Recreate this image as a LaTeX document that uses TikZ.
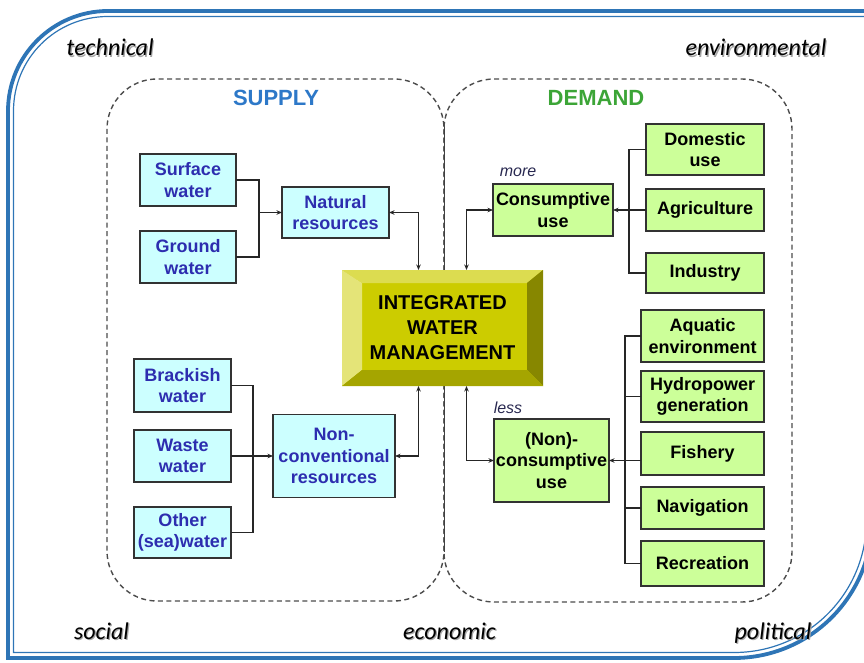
\documentclass[tikz,border=0pt]{standalone}
\usepackage{fontspec}
\setmainfont{Liberation Sans}
\newfontfamily\calfont{Carlito}
\usetikzlibrary{arrows.meta}
\definecolor{framecol}{RGB}{46,117,182}
\definecolor{supcol}{RGB}{45,120,200}
\definecolor{demcol}{RGB}{60,165,55}
\definecolor{cyanfill}{RGB}{204,255,255}
\definecolor{greenfill}{RGB}{204,255,153}
\definecolor{cyantext}{RGB}{45,45,175}
\definecolor{boxline}{RGB}{50,50,50}
\definecolor{iwmface}{RGB}{204,204,0}
\definecolor{iwmtop}{RGB}{220,220,80}
\definecolor{iwmleft}{RGB}{228,228,120}
\definecolor{iwmright}{RGB}{135,135,0}
\definecolor{iwmbottom}{RGB}{165,165,0}
\definecolor{moretext}{RGB}{40,40,80}
\begin{document}
\begin{tikzpicture}[x=1pt,y=-1pt,
  every node/.style={inner sep=0pt, outer sep=0pt},
  boxtext/.style={font=\bfseries\fontsize{18}{21.5}\selectfont, align=center},
  srcbox/.style={boxtext, draw=boxline, line width=1.3pt, fill=cyanfill, text=cyantext},
  usebox/.style={boxtext, draw=boxline, line width=1.3pt, fill=greenfill, text=black},
  conn/.style={draw=black!85, line width=1.3pt},
  tip/.style={-{Stealth[length=5.5pt,width=4.5pt]}},
  bothtip/.style={{Stealth[length=5.5pt,width=4.5pt]}-{Stealth[length=5.5pt,width=4.5pt]}},
  cornerlbl/.style={font=\calfont\itshape\fontsize{24}{28}\selectfont, anchor=base, text=black},
  cornershadow/.style={font=\calfont\itshape\fontsize{24}{28}\selectfont, anchor=base, text=black!35},
  dashframe/.style={draw=black!70, line width=1.4pt, dash pattern=on 5pt off 3.5pt, rounded corners=50pt},
  headlbl/.style={font=\bfseries\fontsize{22}{26}\selectfont},
  qual/.style={font=\itshape\fontsize{16}{18}\selectfont, text=moretext}
]
\useasboundingbox (0,0) rectangle (864,663);

% outer double frame
\draw[framecol, line width=3.8pt] (880,11) -- (108,11) .. controls (52.8,11) and (8,55.8) .. (8,111)
  -- (8,658) -- (734,658) .. controls (810.2,658) and (872,596.2) .. (872,520) -- (872,0);
\draw[framecol, line width=1.2pt] (880,16.5) -- (108,16.5) .. controls (55.5,16.5) and (13.5,58.5) .. (13.5,111)
  -- (13.5,652.5) -- (734,652.5) .. controls (807.5,652.5) and (866.5,593.5) .. (866.5,520) -- (866.5,0);

% corner labels
\node[cornershadow] (tecS) at (111.2,57.2) {technical};
\node[cornerlbl] (tec) at (110,56) {technical};
\node[cornershadow] (envS) at (757.2,57.2) {environmental};
\node[cornerlbl] (env) at (756,56) {environmental};
\node[cornershadow] (socS) at (102.7,640.2) {social};
\node[cornerlbl] (soc) at (101.5,639) {social};
\node[cornershadow] (ecoS) at (450.7,640.2) {economic};
\node[cornerlbl] (eco) at (449.5,639) {economic};
\node[cornershadow] (polS) at (774.2,640.2) {political};
\node[cornerlbl] (pol) at (773,639) {political};

% dashed regions
\draw[dashframe] (107,79) rectangle (444,601);
\draw[dashframe] (444,79) rectangle (792,602);
\draw[black!75, line width=1pt] (444,127) -- (444,552);

\node[headlbl, text=supcol] (sup) at (276,98) {SUPPLY};
\node[headlbl, text=demcol] (dem) at (596,98) {DEMAND};

% central bevelled box
\fill[iwmface] (342,270) rectangle (543,386);
\fill[iwmtop] (342,270) -- (543,270) -- (527,283) -- (362,283) -- cycle;
\fill[iwmleft] (342,270) -- (362,283) -- (362,370) -- (342,386) -- cycle;
\fill[iwmright] (543,270) -- (543,386) -- (527,370) -- (527,283) -- cycle;
\fill[iwmbottom] (342,386) -- (543,386) -- (527,370) -- (362,370) -- cycle;
\node[font=\bfseries\fontsize{20}{25}\selectfont, align=center, minimum width=201pt, minimum height=116pt] (iwm) at (442.5,328) {INTEGRATED\\WATER\\MANAGEMENT};

% supply boxes
\node[srcbox, minimum width=96pt, minimum height=52pt] (surf) at (188,180) {Surface\\water};
\node[srcbox, minimum width=96pt, minimum height=52pt] (ground) at (188,257) {Ground\\water};
\node[srcbox, minimum width=107pt, minimum height=51pt] (nat) at (335.5,212.5) {Natural\\resources};
\node[srcbox, minimum width=97pt, minimum height=53pt] (brack) at (182.5,385.5) {Brackish\\water};
\node[srcbox, minimum width=97pt, minimum height=52pt] (waste) at (182.5,456) {Waste\\water};
\node[srcbox, minimum width=97pt, minimum height=51pt] (other) at (182.5,532.5) {Other\\(sea)water};
\node[srcbox, minimum width=122pt, minimum height=83pt] (ncr) at (334,456) {Non-\\conventional\\resources};

% demand boxes
\node[usebox, minimum width=120pt, minimum height=52pt] (cons) at (553,210) {Consumptive\\use};
\node[usebox, minimum width=118pt, minimum height=51pt] (dom) at (705,149.5) {Domestic\\use};
\node[usebox, minimum width=118pt, minimum height=42pt] (agr) at (705,210) {Agriculture};
\node[usebox, minimum width=118pt, minimum height=40pt] (ind) at (705,273) {Industry};
\node[usebox, minimum width=115pt, minimum height=83pt] (ncu) at (551.5,460.5) {(Non)-\\consumptive\\use};
\node[usebox, minimum width=123pt, minimum height=52pt] (aqu) at (702.5,336) {Aquatic\\environment};
\node[usebox, minimum width=123pt, minimum height=51pt] (hyd) at (702.5,396.5) {Hydropower\\generation};
\node[usebox, minimum width=123pt, minimum height=43pt] (fish) at (702.5,453.5) {Fishery};
\node[usebox, minimum width=123pt, minimum height=42pt] (nav) at (702.5,508) {Navigation};
\node[usebox, minimum width=123pt, minimum height=45pt] (rec) at (702.5,563.5) {Recreation};

\node[qual] (more) at (518,172) {more};
\node[qual] (less) at (508,408) {less};

% connectors supply
\coordinate (bs) at (259,212.5);
\draw[conn] (surf.east) -| (bs);
\draw[conn] (ground.east) -| (bs);
\draw[conn,tip] (bs) -- (nat.west);
\draw[conn,bothtip] (nat.east) -| ([xshift=-24pt]iwm.north);

\coordinate (bn) at (253,456);
\draw[conn] (brack.east) -| (bn);
\draw[conn] (other.east) -| (bn);
\draw[conn,tip] (waste.east) -- (ncr.west);
\draw[conn,bothtip] (ncr.east) -| ([xshift=-24pt]iwm.south);

% connectors demand
\draw[conn,bothtip] (cons.west) -| ([xshift=24pt]iwm.north);
\draw[conn,bothtip] (ncu.west) -| ([xshift=24pt]iwm.south);

\coordinate (bc) at (629,210);
\draw[conn] (dom.west) -| (bc);
\draw[conn] (ind.west) -| (bc);
\draw[conn,tip] (agr.west) -- (cons.east);

\coordinate (bu) at (625,460.5);
\draw[conn] (aqu.west) -| (bu);
\draw[conn] (rec.west) -| (bu);
\draw[conn] (hyd.west) -- (hyd.west -| bu);
\draw[conn] (nav.west) -- (nav.west -| bu);
\draw[conn,tip] (fish.west |- ncu.east) -- (ncu.east);
\end{tikzpicture}
\end{document}
